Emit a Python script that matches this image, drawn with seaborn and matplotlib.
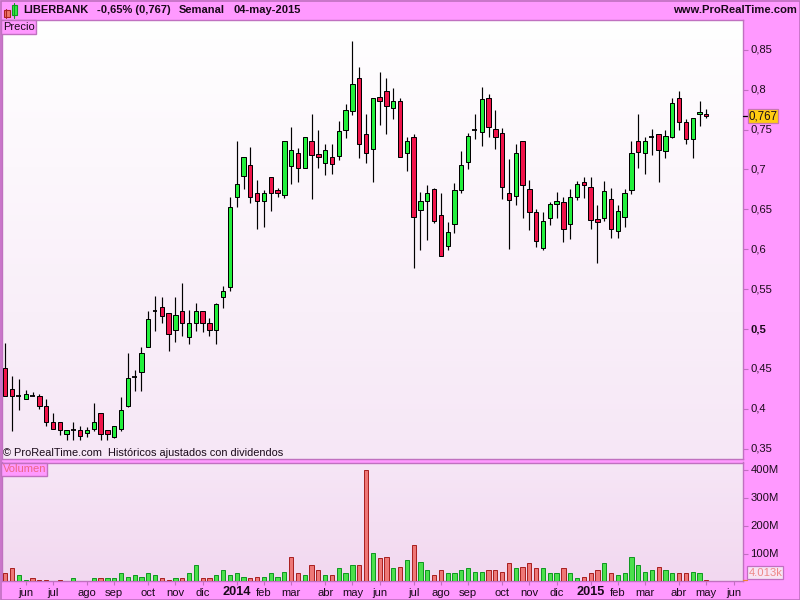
import numpy as np
import pandas as pd
import matplotlib
matplotlib.use("Agg")
import matplotlib.pyplot as plt
from matplotlib.colors import LinearSegmentedColormap
from matplotlib.patches import Rectangle
from matplotlib.lines import Line2D
from matplotlib.transforms import ScaledTranslation
import seaborn as sns

high = [.4821,.4408,.4374,.4232,.4207,.4182,.4120,.3944,.3831,.3731,.3831,.3781,.3769,.4070,.3944,.3731,.3781,.4145,.4696,.4487,.4771,.5222,.5410,.5398,.5197,.5398,.5573,.5235,.5323,.5222,.5135,.5323,.5540,.6651,
        .7353,.7152,.7278,.6864,.6739,.6902,.6764,.7353,.7528,.7265,.7403,.7691,.7491,.7315,.7315,.7603,.7817,.8606,.8280,.7691,.7892,.8218,.8142,.8017,.7892,.7403,.7441,.6714,.6802,.6772,.6701,.6338,.6827,.7228,.7453,.7691,.8030,.7942,
        .7742,.7516,.7128,.7316,.7353,.6865,.6501,.6464,.6589,.6714,.6652,.6752,.6852,.6902,.6902,.6551,.6852,.6764,.6551,.6752,.7353,.7692,.7404,.7504,.7441,.7491,.7892,.7980,.7629,.7642,.7855,.7754]
body_top = [.4508,.4245,.4157,.4182,.4157,.4157,.4032,.3831,.3831,.3731,.3731,.3731,.3731,.3831,.3944,.3731,.3781,.3982,.4383,.4404,.4696,.5122,.5231,.5272,.5197,.5172,.5222,.5072,.5222,.5222,.5072,.5310,.5473,.6526,
            .6814,.7152,.7052,.6701,.6701,.6902,.6739,.7353,.7240,.7203,.7403,.7353,.7190,.7240,.7152,.7478,.7741,.8067,.8142,.7441,.7892,.7904,.7979,.7854,.7854,.7353,.7403,.6601,.6701,.6760,.6426,.6213,.6739,.7052,.7416,.7499,.7879,.7892,
            .7504,.7454,.6702,.7203,.7353,.6752,.6464,.6351,.6564,.6602,.6589,.6652,.6815,.6840,.6777,.6376,.6727,.6627,.6476,.6702,.7203,.7353,.7353,.7404,.7441,.7416,.7830,.7892,.7592,.7642,.7717,.7692]
body_bot = [.4166,.4157,.4157,.4120,.4157,.4032,.3831,.3744,.3731,.3681,.3731,.3656,.3694,.3744,.3681,.3681,.3643,.3744,.4032,.4404,.4458,.4771,.5231,.5160,.4934,.4984,.5072,.4897,.5072,.5072,.4984,.4984,.5398,.5524,
            .6651,.6914,.6651,.6601,.6601,.6701,.6701,.6676,.7040,.7015,.7015,.7177,.7152,.7077,.7065,.7165,.7491,.7729,.7315,.7203,.7253,.7854,.7791,.7766,.7152,.7203,.6401,.6488,.6601,.6350,.5912,.6037,.6313,.6739,.7090,.7499,.7466,.7528,
            .7404,.6777,.6614,.6664,.6802,.6464,.6100,.6013,.6389,.6564,.6251,.6313,.6652,.6802,.6363,.6338,.6389,.6251,.6226,.6401,.6739,.7216,.7203,.7404,.7241,.7228,.7404,.7592,.7378,.7378,.7692,.7667]
low = [.4166,.3727,.3990,.4120,.4157,.3994,.3790,.3744,.3677,.3614,.3614,.3614,.3652,.3727,.3614,.3614,.3631,.3727,.4019,.4228,.4228,.4771,.4980,.5072,.4729,.4842,.4917,.4817,.4980,.4968,.4917,.4817,.5268,.5481,
       .6534,.6760,.6576,.6259,.6284,.6484,.6651,.6647,.6822,.6847,.7015,.6634,.7023,.6935,.6948,.7115,.7399,.7687,.7148,.7086,.6847,.7553,.7449,.7637,.7152,.6985,.5770,.5995,.6121,.6334,.5912,.5995,.6208,.6710,.7010,.7386,.7299,.7403,
       .7253,.6635,.6008,.6560,.6397,.6247,.6033,.5996,.6309,.6397,.6096,.6134,.6614,.6648,.6259,.5833,.6359,.6146,.6146,.6284,.6698,.7023,.6948,.7186,.6848,.7149,.7391,.7500,.7324,.7149,.7550,.7650]
direction = list("rrdgdrrrrg" "drggrrgggd" "ggdrrgrggr" "rgggggrrgr" "rggrgrrgrg"
                 "ggrrgrrgrg" "rggrrggggd" "grrrrgrrrg" "ggrggrrrgr" "gggrgdrggr" "rggr")
volume = [29,50,22,7,14,7,7,3,7,2,11,2,2,11,11,11,11,32,18,22,18,29,25,11,7,11,11,29,58,11,14,25,40,25,32,18,14,18,18,
          29,18,36,90,32,22,58,40,25,22,47,29,61,61,403,104,83,90,47,54,79,133,72,40,25,43,32,29,40,47,36,36,43,40,36,65,47,54,68,
          50,47,32,32,47,29,11,18,32,43,68,32,22,29,90,61,36,43,54,40,32,32,32,36,29,6]
vol_dir = list("rrggrrrrrg" "grggrggggg" "gggrrgrggr" "rgggggrrgg" "ggrrgrrgrg"
               "ggrrgrrgrg" "rggrrggggg" "grrrrgrrrg" "ggrggrrrgr" "ggggggrggr" "rggr")

tick_idx = [3,7,12,16,21,25,29,34,38,42,47,51,55,60,64,68,73,77,81,86,90,94,99,103,107]
tick_lab = ["jun","jul","ago","sep","oct","nov","dic","2014","feb","mar","abr","may","jun","jul","ago","sep","oct","nov","dic","2015","feb","mar","abr","may","jun"]
price_ticks = [0.35,0.4,0.45,0.5,0.55,0.6,0.65,0.7,0.75,0.8,0.85]
price_labels = ["0,35","0,4","0,45","0,5","0,55","0,6","0,65","0,7","0,75","0,8","0,85"]
vol_ticks = [100,200,300,400]
vol_labels = ["100M","200M","300M","400M"]
last_price = 0.767

n = len(high)
x = np.arange(n)
df = pd.DataFrame(dict(x=x, high=high, top=body_top, bot=body_bot, low=low, d=direction))
df["h"] = df.top - df.bot
vd = pd.DataFrame(dict(x=x, v=volume, d=vol_dir))

sns.set_theme(style="white")
plt.rcParams["font.family"] = ["Liberation Sans", "DejaVu Sans"]

PINK = "#FF99FF"
EDGE = "#C070C0"
W, H = 800, 600
fig = plt.figure(figsize=(8, 6), dpi=100, facecolor=PINK)

def axpos(l, t, r, b):
    return [l / W, 1 - b / H, (r - l) / W, (b - t) / H]

ax = fig.add_axes(axpos(2, 20, 743, 459))
av = fig.add_axes(axpos(2, 462.5, 743, 580.5))

for a, c0, c1 in [(ax, "#FFFFFF", "#F6E7F6"), (av, "#F6E6F6", "#F2D8F0")]:
    cm = LinearSegmentedColormap.from_list("g", [c0, c1])
    a.imshow(np.linspace(0, 1, 256)[:, None], cmap=cm, aspect="auto",
             extent=(0, 1, 0, 1), transform=a.transAxes, zorder=0)

# candles
ax.vlines(df.x, df.low, df.high, color="black", lw=0.85, zorder=2)
for key, fc in [("g", "#22F03C"), ("r", "#F0144A")]:
    s = df[df.d == key]
    sns.barplot(x=s.x.values, y=s.h.values, bottom=s.bot.values, native_scale=True,
                width=0.64, color=fc, saturation=1, edgecolor="black", linewidth=0.72,
                errorbar=None, ax=ax, zorder=3)
s = df[df.d == "d"]
ax.hlines(s.top, s.x - 0.36, s.x + 0.36, color="black", lw=1.3, zorder=3)

# volume
for key, fc, ec in [("g", "#4CE04C", "#119922"), ("r", "#EE7777", "#AA2222")]:
    s = vd[vd.d == key]
    sns.barplot(x=s.x.values, y=s.v.values, native_scale=True, width=0.62, color=fc,
                saturation=1, edgecolor=ec, linewidth=0.72, errorbar=None, ax=av, zorder=3)

XL = (-0.485, 108.39)
ax.set_xlim(XL); av.set_xlim(XL)
ax.set_ylim(0.3372, 0.8873)
av.set_ylim(3.6, 428.8)

ax.set_xticks([]); ax.set_xlabel(""); ax.set_ylabel("")
av.set_xlabel(""); av.set_ylabel("")
TXT = "#1A0A1A"
ax.yaxis.tick_right(); av.yaxis.tick_right()
ax.set_yticks(price_ticks, price_labels)
av.set_yticks(vol_ticks, vol_labels)
av.set_xticks(tick_idx, tick_lab)
for a in (ax, av):
    a.tick_params(axis="y", right=True, left=False, length=3.6, width=0.8, color=EDGE, pad=1.8,
                  labelsize=8.1, labelcolor=TXT)
    for sp in a.spines.values():
        sp.set_color(EDGE); sp.set_linewidth(1.0)
av.tick_params(axis="x", bottom=True, length=3.2, width=0.8, color=EDGE, pad=2.5,
               labelsize=8.1, labelcolor=TXT)
up1 = ScaledTranslation(0, 1/100, fig.dpi_scale_trans)
up2 = ScaledTranslation(0, 2/100, fig.dpi_scale_trans)
for a in (ax, av):
    for t in a.get_yticklabels():
        t.set_transform(t.get_transform() + up1)
for t, lab in zip(av.get_xticklabels(), tick_lab):
    if lab.isdigit():
        t.set_fontweight("bold"); t.set_fontsize(9.2)
        t.set_transform(t.get_transform() + up2)
for t, lab in zip(ax.get_yticklabels(), price_labels):
    if lab == "0,5":
        t.set_fontweight("bold")

def frect(l, t, w, h, **kw):
    fig.add_artist(Rectangle((l/W, 1-(t+h)/H), w/W, h/H, transform=fig.transFigure, **kw))

def fline(x0, y0, x1, y1, **kw):
    fig.add_artist(Line2D([x0/W, x1/W], [1-y0/H, 1-y1/H], transform=fig.transFigure, **kw))

# last price marker
ax.plot([1.0, 1.007], [last_price, last_price], transform=ax.get_yaxis_transform(),
        color="black", lw=0.9, clip_on=False, zorder=5)
frect(747.7, 109.3, 30, 14, fc="#FFCC11", ec="#C878B0", lw=0.9, zorder=6)
fig.text(762.7/W, 1-116.5/H, "0,767", ha="center", va="center", fontsize=8.3, color="#1A0A1A", zorder=7)
frect(747.3, 565.7, 36, 13.3, fc="#F8E4F4", ec=EDGE, lw=0.9, zorder=6)
fig.text(765.3/W, 1-572.5/H, "4.013k", ha="center", va="center", fontsize=8.1, color="#EE8888", zorder=7)
av.plot([1.0, 1.006], [6, 6], transform=av.get_yaxis_transform(), color="#F08030",
        lw=0.9, clip_on=False, zorder=5)

# header
for xp, s_ in [(23, "LIBERBANK"), (97, "-0,65% (0,767)"), (179, "Semanal"), (233, "04-may-2015")]:
    fig.text(xp/W, 1-10/H, s_, fontsize=8.0, fontweight="bold", color=TXT, ha="left", va="center")
fig.text(797/W, 1-10/H, "www.ProRealTime.com", fontsize=8.1, fontweight="bold", color=TXT, ha="right", va="center")
fig.text(3/W, 1-453/H, "\u00a9 ProRealTime.com  Hist\u00f3ricos ajustados con dividendos",
         fontsize=7.9, color=TXT, ha="left", va="center", zorder=6)

fline(6.3, 9, 6.3, 18, color="#AA2222", lw=0.8)
fline(14.2, 3, 14.2, 18, color="#119922", lw=0.8)
frect(3.5, 10.5, 6, 6.5, fc="#EE7766", ec="#AA2222", lw=0.8)
frect(11.5, 5.5, 5.5, 9.5, fc="#33EE44", ec="#119922", lw=0.8)
frect(1, 20, 35, 14, fc="#FF99FF", ec=EDGE, lw=1.0, zorder=7)
fig.text(3/W, 1-27/H, "Precio", fontsize=8.0, color=TXT, va="center", zorder=8)
frect(1, 463, 46, 12.5, fc="#FF99FF", ec=EDGE, lw=1.0, zorder=7)
fig.text(3/W, 1-469/H, "Volumen", fontsize=8.0, color="#EE6688", va="center", zorder=8)
frect(0.5, 0.5, 799, 599, fc="none", ec=EDGE, lw=1.2, zorder=9)

fig.savefig("out.png", dpi=100, facecolor=PINK)
